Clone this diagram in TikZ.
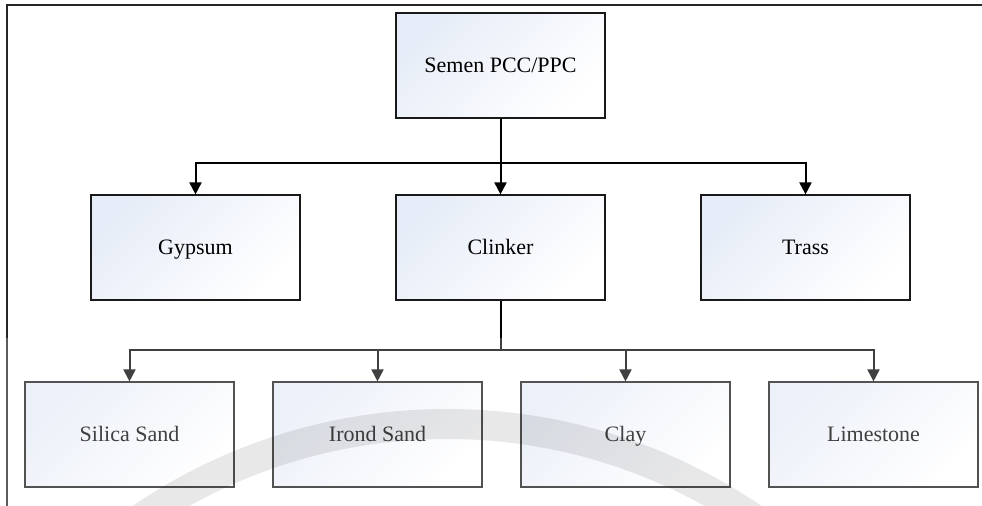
\documentclass[tikz,border=0pt]{standalone}
\usepackage{fontspec}
\setmainfont{Liberation Serif}
\newfontfamily\labelfont{Liberation Serif}
\usetikzlibrary{arrows.meta}

\definecolor{boxtint}{HTML}{E6ECF7}

\tikzset{
  unitbox/.style={
    draw=black!90, line width=0.9pt,
    top color=boxtint, bottom color=white, shading angle=45,
    minimum width=156.75pt, minimum height=78.75pt,
    inner sep=0pt, text height=14pt, text depth=3.5pt,
    font=\labelfont\fontsize{16.5}{19}\selectfont, text=black
  },
  link/.style={line width=1.5pt, draw=black},
  feed/.style={link, -{Triangle[width=9pt,length=9pt]}},
  frameline/.style={line width=1pt, draw=black!85}
}

\begin{document}
\begin{tikzpicture}[x=0.75pt, y=-0.75pt]
  \useasboundingbox (0,0) rectangle (982,506);
  \fill[white] (0,0) rectangle (982,506);

  % page frame
  \coordinate (fbl) at (7,506);
  \coordinate (ftl) at (7,5);
  \coordinate (ftr) at (982,5);
  \draw[frameline] (fbl) -- (ftl) -- (ftr);

  % product
  \node[unitbox] (semen) at (500.5,65.5) {Semen PCC/PPC};

  % main components
  \node[unitbox] (gypsum)  at (195.5,247.5) {Gypsum};
  \node[unitbox] (clinker) at (500.5,247.5) {Clinker};
  \node[unitbox] (trass)   at (805.5,247.5) {Trass};

  % raw materials of clinker
  \node[unitbox] (silica) at (129.5,434.5) {Silica Sand};
  \node[unitbox] (irond)  at (377.5,434.5) {Irond Sand};
  \node[unitbox] (clay)   at (625.5,434.5) {Clay};
  \node[unitbox] (lime)   at (873.5,434.5) {Limestone};

  % junctions
  \coordinate (j1) at (500.5,163);
  \coordinate (j2) at (500.5,349.5);

  \draw[link] (semen) -- (j1);
  \draw[feed] (j1) -| (gypsum);
  \draw[feed] (j1) -- (clinker);
  \draw[feed] (j1) -| (trass);

  \draw[link] (clinker) -- (j2);
  \draw[feed] (j2) -| (silica);
  \draw[feed] (j2) -| (irond);
  \draw[feed] (j2) -| (clay);
  \draw[feed] (j2) -| (lime);

  % faint lower wash and arc mark
  \fill[white, opacity=0.25] (0,338) rectangle (982,506);
  \begin{scope}
    \clip (0,0) rectangle (982,506);
    \fill[black, opacity=0.09, even odd rule]
      (447,967) circle (418.5pt) (447,967) circle (396pt);
  \end{scope}
\end{tikzpicture}
\end{document}
